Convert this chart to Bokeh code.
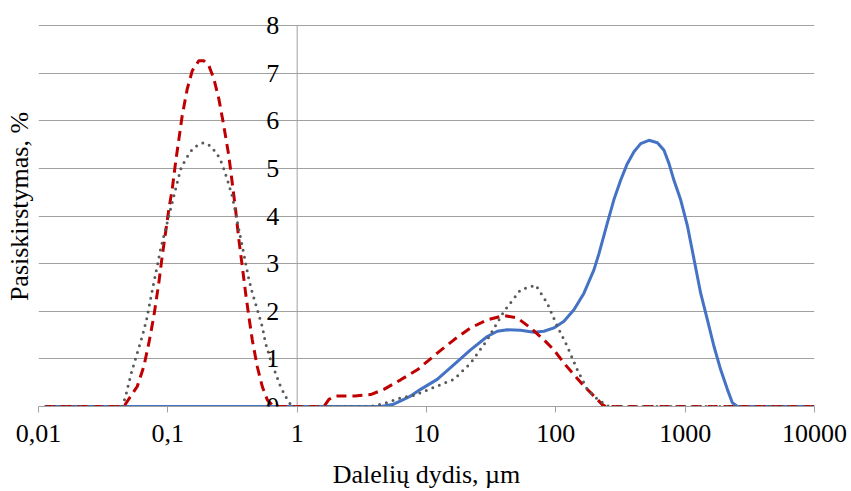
from bokeh.plotting import figure
from bokeh.models import Range1d, FixedTicker, ColumnDataSource, LabelSet
from bokeh.embed import file_html
from bokeh.resources import INLINE

# ---- data ----
x_ticks = [0.01, 0.1, 1, 10, 100, 1000, 10000]
x_tick_labels = ["0,01", "0,1", "1", "10", "100", "1000", "10000"]
y_ticks = [0, 1, 2, 3, 4, 5, 6, 7, 8]
y_tick_labels = ["0", "1", "2", "3", "4", "5", "6", "7", "8"]

blue_x = [0.0113, 4.42, 5.47, 6.31, 7.53, 9.0, 12.1, 16.3, 21.9, 29.5, 35.3, 42.2,
          53.4, 67.7, 80.9, 96.6, 115.6, 138, 165, 197, 215, 250, 281, 317, 357,
          402, 453, 525, 610, 686, 750, 819, 923, 1040, 1140, 1318, 1486, 1671,
          1883, 2120, 2317, 2535, 10000]
blue_y = [0, 0, 0.04, 0.12, 0.22, 0.36, 0.57, 0.88, 1.19, 1.47, 1.58, 1.61,
          1.60, 1.56, 1.58, 1.65, 1.79, 2.03, 2.38, 2.87, 3.2, 3.85, 4.34, 4.75, 5.10,
          5.35, 5.52, 5.59, 5.54, 5.38, 5.10, 4.75, 4.34, 3.8, 3.25, 2.38, 1.82, 1.26,
          0.77, 0.36, 0.08, 0, 0]

red_x = [0.0113, 0.0457, 0.0580, 0.0652, 0.0713, 0.0779, 0.0852, 0.0905, 0.0960,
         0.1018, 0.1081, 0.1147, 0.1217, 0.1292, 0.1413, 0.1544, 0.1737, 0.1899,
         0.2075, 0.2269, 0.2480, 0.2711, 0.2963, 0.3147, 0.3338, 0.3540, 0.3761,
         0.3990, 0.4231, 0.4495, 0.4913, 0.5372, 0.5873, 0.6604, 0.72,
         1.61, 1.76, 1.92, 2.04, 2.8, 3.70, 4.68, 6.31, 8.49, 12.1, 16.3, 21.9,
         29.5, 39.7, 50.4, 63.8, 80.9, 96.6, 115.6, 138, 165, 197, 229, 243, 10000]
red_y = [0, 0, 0.42, 0.84, 1.33, 1.89, 2.60, 3.16, 3.65,
         4.14, 4.56, 5.12, 5.61, 6.11, 6.67, 7.05, 7.26, 7.26,
         7.16, 6.88, 6.46, 5.89, 5.26, 4.70, 4.14, 3.51, 2.95,
         2.39, 1.89, 1.40, 0.84, 0.42, 0.14, 0, 0,
         0, 0.15, 0.21, 0.22, 0.22, 0.25, 0.36, 0.56, 0.77, 1.12, 1.40, 1.65,
         1.82, 1.91, 1.86, 1.65, 1.40, 1.19, 0.91, 0.67, 0.43, 0.22, 0.04, 0, 0]

gray_x = [0.0113, 0.0444, 0.0471, 0.0499, 0.0530, 0.0580, 0.0634, 0.0684, 0.0726,
          0.0779, 0.0828, 0.0878, 0.0931, 0.0989, 0.1049, 0.1113, 0.1182, 0.1254,
          0.1371, 0.1544, 0.1737, 0.1899, 0.2139, 0.2411, 0.2634, 0.2880, 0.3147,
          0.3338, 0.3540, 0.3761, 0.3990, 0.4231, 0.4495, 0.4913, 0.5372, 0.5696,
          0.6225, 0.6806, 0.7441, 0.8135, 0.8892, 0.9430,
          3.70, 4.68, 6.31, 8.49, 9.0, 12.1, 16.3, 21.9, 29.5, 39.7, 53.4, 69.8,
          85.9, 102.8, 122.8, 146.6, 175, 209, 243, 257, 10000]
gray_y = [0, 0, 0.21, 0.49, 0.77, 1.12, 1.47, 1.82, 2.18,
          2.60, 2.95, 3.30, 3.58, 3.86, 4.14, 4.42, 4.70, 4.98,
          5.19, 5.40, 5.51, 5.54, 5.47, 5.30, 5.09, 4.77, 4.42,
          4.07, 3.72, 3.37, 3.02, 2.67, 2.39, 2.04, 1.68, 1.33,
          0.98, 0.70, 0.42, 0.21, 0.04, 0,
          0, 0.06, 0.18, 0.25, 0.29, 0.43, 0.57, 0.91, 1.40, 2.0, 2.45, 2.55,
          2.17, 1.68, 1.26, 0.77, 0.36, 0.16, 0.04, 0, 0]

FONT = "Liberation Serif"
FS = "26px"
GRID = "#a0a0a0"
Y_TOP = 8.4   # small headroom so the top tick label "8" is not clipped

p = figure(width=851, height=491, x_axis_type="log",
           x_range=Range1d(0.01, 10000), y_range=Range1d(0, Y_TOP),
           output_backend="svg", toolbar_location=None,
           min_border_left=38, min_border_right=37,
           min_border_top=6, min_border_bottom=84)
p.outline_line_color = None
p.background_fill_color = "white"
p.border_fill_color = "white"

# x axis
xa = p.xaxis[0]
xa.ticker = FixedTicker(ticks=x_ticks)
xa.major_label_overrides = {t: l for t, l in zip(x_ticks, x_tick_labels)}
xa.minor_tick_line_color = None
xa.major_tick_in = 0
xa.major_tick_out = 6
xa.major_tick_line_color = GRID
xa.axis_line_color = GRID
xa.major_label_text_font = FONT
xa.major_label_text_font_size = FS
xa.major_label_text_color = "black"
xa.major_label_standoff = 12
xa.axis_label = "Dalelių dydis, µm"
xa.axis_label_text_font = FONT
xa.axis_label_text_font_size = FS
xa.axis_label_text_font_style = "normal"
xa.axis_label_text_color = "black"
xa.axis_label_standoff = 15

# y axis (title only; the visible axis sits at x = 1)
ya = p.yaxis[0]
ya.ticker = FixedTicker(ticks=[])
ya.axis_line_color = None
ya.major_tick_line_color = None
ya.minor_tick_line_color = None
ya.major_tick_out = 0
ya.major_label_standoff = 0
ya.axis_label = "Pasiskirstymas, %"
ya.axis_label_text_font = FONT
ya.axis_label_text_font_size = FS
ya.axis_label_text_font_style = "normal"
ya.axis_label_text_color = "black"
ya.axis_label_standoff = 5

p.xgrid.grid_line_color = None
p.ygrid.ticker = FixedTicker(ticks=y_ticks)
p.ygrid.grid_line_color = GRID
p.ygrid.grid_line_width = 1

# vertical value axis drawn at x = 1 from 0 to 8
p.segment(x0=[1], y0=[y_ticks[0]], x1=[1], y1=[y_ticks[-1]],
          line_color=GRID, line_width=1)

ylab = ColumnDataSource(dict(x=[1] * len(y_ticks), y=y_ticks, t=y_tick_labels))
p.add_layout(LabelSet(x="x", y="y", text="t", source=ylab, x_offset=-18,
                      text_align="right", text_baseline="middle",
                      text_font=FONT, text_font_size=FS, text_color="black"))

# series
p.line(blue_x, blue_y, line_color="#4472C4", line_width=3, line_join="round")
p.line(red_x, red_y, line_color="#C00000", line_width=3, line_dash="10 6",
       line_join="round")
p.line(gray_x, gray_y, line_color="#595959", line_width=3, line_dash="0 7",
       line_cap="round", line_join="round")

open("out.html", "w").write(file_html(p, INLINE))
